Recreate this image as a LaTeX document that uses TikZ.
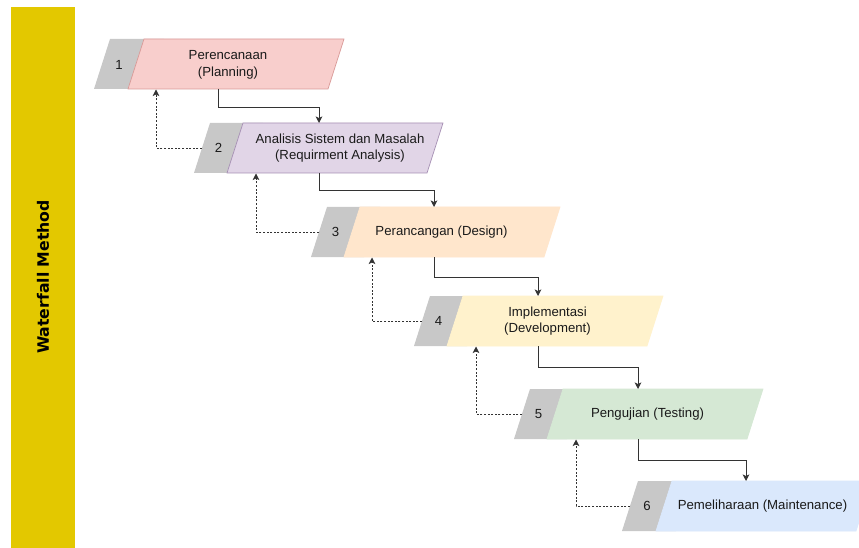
\documentclass[tikz,border=0pt]{standalone}
\usepackage{fontspec}
\setmainfont{Liberation Sans}
\newfontfamily\titlefont{DejaVu Sans}
\usetikzlibrary{arrows.meta}
\definecolor{barYellow}{HTML}{E3C800}
\definecolor{grayfill}{HTML}{C8C8C8}
\definecolor{pinkfill}{HTML}{F8CECC}
\definecolor{pinkline}{HTML}{D99A98}
\definecolor{purplefill}{HTML}{E1D5E7}
\definecolor{purpleline}{HTML}{A690B4}
\definecolor{peachfill}{HTML}{FFE6CC}
\definecolor{creamfill}{HTML}{FFF2CC}
\definecolor{greenfill}{HTML}{D5E8D4}
\definecolor{bluefill}{HTML}{DAE8FC}
\definecolor{inkcol}{HTML}{1A1A1A}
\definecolor{linecol}{HTML}{333333}
\begin{document}
\begin{tikzpicture}[x=1pt,y=-1pt,
  lbl/.style={font=\fontsize{13.2}{16.5}\selectfont, text=inkcol, align=center, inner sep=0pt},
  numlbl/.style={font=\fontsize{13.2}{16}\selectfont, text=inkcol, inner sep=0pt},
  flowline/.style={draw=linecol, line width=0.9pt, -{Stealth[length=6.5pt,width=6.5pt,inset=1.5pt]}},
  backline/.style={draw=linecol, line width=0.8pt, dash pattern=on 2pt off 1.6pt, -{Stealth[length=6.5pt,width=6.5pt,inset=1.5pt]}},
  graypart/.style={fill=grayfill},
]
\useasboundingbox (0,0) rectangle (859,548);
\fill[white] (0,0) rectangle (859,548);
% side bar
\fill[barYellow] (11,7) rectangle (75,548);
\node[rotate=90, font=\titlefont\bfseries\fontsize{15.7}{18}\selectfont, text=black] (title) at (43,277) {Waterfall Method};

% stages: gray TL x / coloured TL x / top y / fill / stroke
\foreach \g/\c/\t/\f/\s in {110/144/39/pinkfill/pinkline, 210/243/123/purplefill/purpleline,
  327/360/207/peachfill/peachfill, 430/463/296/creamfill/creamfill,
  530/563/389/greenfill/greenfill, 638/672/481/bluefill/bluefill}{
  \fill[graypart] (\g,\t) -- (\c+20,\t) -- (\c+4,\t+50) -- (\g-16,\t+50) -- cycle;
  \filldraw[fill=\f, draw=\s, line width=0.7pt] (\c,\t) -- (\c+200,\t) -- (\c+184,\t+50) -- (\c-16,\t+50) -- cycle;
}

% numbers
\node[numlbl] (n1) at (119,65) {1};
\node[numlbl] (n2) at (218.5,148) {2};
\node[numlbl] (n3) at (335.5,232) {3};
\node[numlbl] (n4) at (438.5,321) {4};
\node[numlbl] (n5) at (538.5,414) {5};
\node[numlbl] (n6) at (647,506) {6};

% labels
\node[lbl] (t1) at (228,65) {Perencanaan\\(Planning)};
\node[lbl] (t2) at (340,148) {Analisis Sistem dan Masalah\\(Requirment Analysis)};
\node[lbl] (t3) at (441.5,232) {Perancangan (Design)};
\node[lbl] (t4) at (547.5,321) {Implementasi\\(Development)};
\node[lbl] (t5) at (647.5,414) {Pengujian (Testing)};
\node[lbl] (t6) at (762.5,506) {Pemeliharaan (Maintenance)};

% connection points
\coordinate (o1) at (218,89);   \coordinate (i2) at (319,123);
\coordinate (o2) at (319,173);  \coordinate (i3) at (434,207);
\coordinate (o3) at (434,257);  \coordinate (i4) at (538,296);
\coordinate (o4) at (538,346);  \coordinate (i5) at (638,389);
\coordinate (o5) at (638,439);  \coordinate (i6) at (746,481);

\coordinate (b2) at (202,148);  \coordinate (u1) at (156,89.5);
\coordinate (b3) at (319,232);  \coordinate (u2) at (256,173.5);
\coordinate (b4) at (422,321);  \coordinate (u3) at (372,257.5);
\coordinate (b5) at (522,414);  \coordinate (u4) at (476,346.5);
\coordinate (b6) at (630,506);  \coordinate (u5) at (576,439.5);

% forward flow
\draw[flowline] (o1) -- ++(0,18) -| (i2);
\draw[flowline] (o2) -- ++(0,17) -| (i3);
\draw[flowline] (o3) -- ++(0,20) -| (i4);
\draw[flowline] (o4) -- ++(0,21) -| (i5);
\draw[flowline] (o5) -- ++(0,21) -| (i6);

% feedback
\draw[backline] (b2) -| (u1);
\draw[backline] (b3) -| (u2);
\draw[backline] (b4) -| (u3);
\draw[backline] (b5) -| (u4);
\draw[backline] (b6) -| (u5);
\end{tikzpicture}
\end{document}
